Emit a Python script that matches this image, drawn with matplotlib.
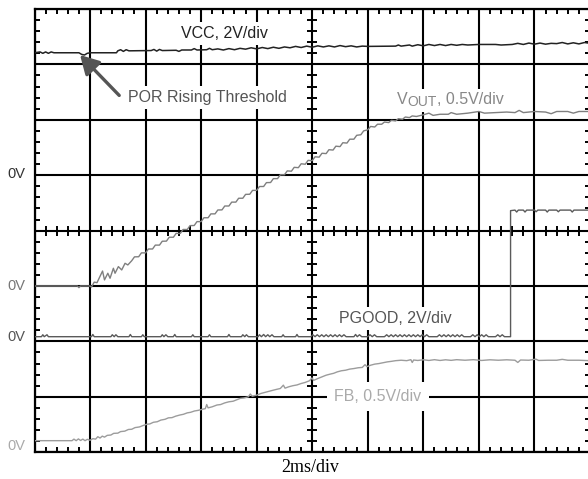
import matplotlib
matplotlib.use("Agg")
import matplotlib.pyplot as plt
import matplotlib.patches as mpatches
from matplotlib.transforms import Bbox, IdentityTransform
import numpy as np

# Scope settings: 2 ms/div, 10 x 8 divisions
MS_PER_DIV = 2.0
N_XDIV = 10
N_YDIV = 8

# channel: (volts per div, 0V position in divisions from the bottom)
CHANNELS = {
    "vcc": (2.0, 5.0),
    "vout": (0.5, 3.0),
    "pgood": (2.0, 2.0),
    "fb": (0.5, 0.0),
}

# traces: (time ms, volts)
vcc_pts = [
    (0.0, 4.42), (0.2, 4.45), (0.3, 4.40), (0.4, 4.45), (0.5, 4.40), (0.6, 4.45),
    (0.7, 4.42), (1.6, 4.42), (1.7, 4.36), (1.8, 4.34), (1.9, 4.40), (2.0, 4.42),
    (2.95, 4.42), (3.0, 4.49), (3.1, 4.53), (3.2, 4.47), (3.3, 4.53), (3.4, 4.49),
    (4.2, 4.50), (4.3, 4.54), (4.4, 4.48), (4.5, 4.54), (4.6, 4.50), (5.1, 4.51),
    (5.2, 4.47), (5.3, 4.52), (5.65, 4.52), (5.75, 4.57), (5.85, 4.52), (6.2, 4.53),
    (6.3, 4.58), (6.4, 4.53), (6.6, 4.56), (6.8, 4.52), (7.0, 4.57), (7.2, 4.53),
    (7.4, 4.58), (7.6, 4.55), (7.8, 4.60), (8.0, 4.56), (8.2, 4.61), (8.4, 4.57),
    (8.6, 4.62), (8.8, 4.58), (9.0, 4.63), (9.2, 4.60), (9.4, 4.65), (9.6, 4.61),
    (9.8, 4.66), (10.0, 4.62), (10.2, 4.67), (10.4, 4.63), (10.6, 4.67), (10.8, 4.63),
    (11.0, 4.68), (11.2, 4.64), (11.4, 4.67), (11.6, 4.63), (11.8, 4.66), (12.0, 4.65),
    (13.0, 4.66), (13.1, 4.70), (13.2, 4.66), (13.5, 4.70), (13.6, 4.66), (13.8, 4.71),
    (14.0, 4.67), (14.2, 4.72), (14.4, 4.68), (14.6, 4.72), (14.8, 4.68), (15.0, 4.72),
    (15.2, 4.69), (15.4, 4.72), (15.6, 4.70), (16.0, 4.72), (16.6, 4.72), (16.8, 4.70),
    (17.2, 4.72), (17.4, 4.76), (17.6, 4.72), (17.8, 4.77), (18.0, 4.73), (18.2, 4.77),
    (18.4, 4.73), (18.6, 4.76), (18.8, 4.75), (19.0, 4.79), (19.2, 4.74), (19.4, 4.78),
    (19.6, 4.74), (19.8, 4.79), (20.0, 4.76),
]

vout_pts = [
    (0.0, 0.0), (1.55, 0.0), (1.6, -0.015), (1.65, 0.0), (2.0, 0.0), (2.05, -0.01),
    (2.15, 0.035), (2.25, 0.03), (2.45, 0.135), (2.52, 0.055), (2.64, 0.115),
    (2.72, 0.07), (2.84, 0.16), (2.9, 0.115), (3.02, 0.175), (3.14, 0.145),
    (3.26, 0.205), (3.36, 0.19), (3.5, 0.228), (3.6, 0.263), (3.75, 0.264),
    (3.85, 0.299), (4.0, 0.299), (4.1, 0.334), (4.25, 0.334), (4.35, 0.369),
    (4.5, 0.369), (4.6, 0.404), (4.75, 0.405), (4.85, 0.44), (5.0, 0.44),
    (5.1, 0.475), (5.25, 0.475), (5.35, 0.51), (5.5, 0.51), (5.6, 0.545),
    (5.75, 0.546), (5.85, 0.581), (6.0, 0.581), (6.1, 0.616), (6.25, 0.616),
    (6.35, 0.651), (6.5, 0.651), (6.6, 0.686), (6.75, 0.687), (6.85, 0.722),
    (7.0, 0.722), (7.1, 0.757), (7.25, 0.757), (7.35, 0.792), (7.5, 0.792),
    (7.6, 0.827), (7.75, 0.828), (7.85, 0.863), (8.0, 0.863), (8.1, 0.898),
    (8.25, 0.898), (8.35, 0.933), (8.5, 0.934), (8.6, 0.969), (8.75, 0.969),
    (8.85, 1.004), (9.0, 1.004), (9.1, 1.039), (9.25, 1.036), (9.35, 1.071),
    (9.5, 1.068), (9.6, 1.103), (9.75, 1.099), (9.85, 1.134), (10.0, 1.131),
    (10.1, 1.166), (10.25, 1.163), (10.35, 1.198), (10.5, 1.195), (10.6, 1.23),
    (10.75, 1.227), (10.85, 1.262), (11.0, 1.258), (11.1, 1.293), (11.25, 1.29),
    (11.35, 1.325), (11.5, 1.325), (11.6, 1.36), (11.75, 1.365), (11.85, 1.40),
    (12.0, 1.41), (12.1, 1.44), (12.25, 1.435), (12.35, 1.46), (12.5, 1.46),
    (12.6, 1.48), (12.75, 1.475), (12.85, 1.495), (13.0, 1.49), (13.1, 1.51),
    (13.25, 1.505), (13.35, 1.525), (13.5, 1.52), (13.6, 1.535), (13.75, 1.53),
    (14.0, 1.545), (14.2, 1.56), (14.35, 1.54), (14.6, 1.55), (14.9, 1.55),
    (15.0, 1.565), (15.2, 1.55), (15.6, 1.56), (16.0, 1.575), (16.2, 1.56),
    (16.6, 1.565), (17.0, 1.57), (17.3, 1.565), (17.45, 1.585), (17.6, 1.565),
    (18.0, 1.575), (18.4, 1.57), (18.6, 1.555), (18.8, 1.575), (19.2, 1.575),
    (19.4, 1.56), (19.6, 1.575), (20.0, 1.575),
]

pgood_pts = [
    (0.0, 0.17), (0.25, 0.17), (0.3, 0.24), (0.35, 0.17), (0.45, 0.24), (0.5, 0.17),
    (2.05, 0.17), (2.1, 0.25), (2.15, 0.17), (2.75, 0.17), (2.8, 0.24), (2.87, 0.17),
    (2.93, 0.24), (3.0, 0.17), (3.4, 0.17), (3.45, 0.25), (3.5, 0.17), (3.85, 0.17),
    (3.9, 0.24), (3.95, 0.17), (4.55, 0.17), (4.6, 0.24), (4.66, 0.17), (4.73, 0.24),
    (4.8, 0.17), (5.0, 0.17), (5.05, 0.25), (5.1, 0.17), (5.65, 0.17), (5.7, 0.24),
    (5.75, 0.17), (6.25, 0.17), (6.3, 0.24), (6.35, 0.17), (6.95, 0.17), (7.0, 0.25),
    (7.05, 0.17), (7.45, 0.17), (7.5, 0.24), (7.57, 0.17), (7.63, 0.24), (7.7, 0.17),
    (8.05, 0.17), (8.1, 0.24), (8.17, 0.17), (8.25, 0.25), (8.32, 0.17), (8.4, 0.24),
    (8.47, 0.17), (8.55, 0.24), (8.62, 0.17), (8.9, 0.17), (8.95, 0.24), (9.0, 0.17),
    (9.4, 0.17), (9.45, 0.25), (9.5, 0.17), (9.95, 0.17), (10.02, 0.24), (10.1, 0.17),
    (10.18, 0.24), (10.26, 0.17), (10.34, 0.24), (10.42, 0.17), (10.5, 0.24),
    (10.58, 0.17), (10.66, 0.24), (10.74, 0.17), (10.82, 0.24), (10.9, 0.17),
    (10.98, 0.24), (11.06, 0.17), (11.14, 0.24), (11.22, 0.17), (11.5, 0.17),
    (11.56, 0.25), (11.62, 0.17), (11.7, 0.24), (11.78, 0.17), (12.0, 0.17),
    (12.08, 0.24), (12.16, 0.17), (12.24, 0.24), (12.32, 0.17), (12.6, 0.17),
    (12.68, 0.24), (12.76, 0.17), (12.84, 0.24), (12.92, 0.17), (13.0, 0.24),
    (13.08, 0.17), (13.16, 0.24), (13.24, 0.17), (13.32, 0.24), (13.4, 0.17),
    (13.48, 0.24), (13.56, 0.17), (13.64, 0.24), (13.72, 0.17), (13.8, 0.24),
    (13.88, 0.17), (13.96, 0.24), (14.04, 0.17), (14.12, 0.24), (14.2, 0.17),
    (14.5, 0.17), (14.58, 0.24), (14.66, 0.17), (14.74, 0.24), (14.82, 0.17),
    (14.9, 0.24), (14.98, 0.17), (15.06, 0.24), (15.14, 0.17), (15.22, 0.24),
    (15.3, 0.17), (15.38, 0.24), (15.46, 0.17), (15.7, 0.17), (15.78, 0.24),
    (15.86, 0.17), (15.94, 0.24), (16.02, 0.17), (16.1, 0.24), (16.18, 0.17),
    (16.26, 0.24), (16.34, 0.17), (16.6, 0.17), (16.68, 0.24), (16.76, 0.17),
    (16.84, 0.24), (16.92, 0.17), (17.14, 0.17), (17.14, 4.72), (17.3, 4.74),
    (17.36, 4.67), (17.42, 4.74), (17.6, 4.74), (17.66, 4.67), (17.72, 4.74),
    (18.0, 4.74), (18.06, 4.68), (18.12, 4.74), (18.4, 4.74), (18.46, 4.67),
    (18.52, 4.74), (18.8, 4.74), (18.86, 4.68), (18.92, 4.74), (19.3, 4.74),
    (19.36, 4.67), (19.42, 4.74), (19.9, 4.74), (20.0, 4.74),
]

fb_pts = [
    (0.0, 0.104), (1.35, 0.104), (1.42, 0.118), (1.5, 0.104), (1.58, 0.12),
    (1.66, 0.106), (1.74, 0.118), (1.82, 0.104), (1.9, 0.116), (2.0, 0.108),
    (2.1, 0.122), (2.2, 0.118), (2.28, 0.14), (2.36, 0.128), (2.44, 0.145),
    (2.52, 0.136), (2.62, 0.152), (2.75, 0.155), (2.85, 0.17), (3.0, 0.172),
    (3.1, 0.186), (3.25, 0.19), (3.38, 0.205), (3.5, 0.207), (3.62, 0.222),
    (3.78, 0.228), (3.9, 0.24), (4.04, 0.252), (4.15, 0.255), (4.28, 0.27),
    (4.42, 0.275), (4.55, 0.29), (4.7, 0.297), (4.82, 0.31), (4.95, 0.312),
    (5.08, 0.325), (5.24, 0.336), (5.36, 0.342), (5.5, 0.355), (5.62, 0.36),
    (5.76, 0.372), (5.9, 0.378), (6.05, 0.388), (6.15, 0.393), (6.2, 0.43),
    (6.25, 0.4), (6.4, 0.41), (6.57, 0.426), (6.7, 0.43), (6.85, 0.445),
    (7.0, 0.455), (7.15, 0.46), (7.3, 0.475), (7.41, 0.486), (7.55, 0.49),
    (7.7, 0.5), (7.77, 0.525), (7.84, 0.505), (8.01, 0.516), (8.15, 0.53),
    (8.3, 0.54), (8.45, 0.55), (8.6, 0.56), (8.73, 0.568), (8.85, 0.575),
    (8.96, 0.605), (9.02, 0.578), (9.15, 0.59), (9.3, 0.6), (9.45, 0.607),
    (9.6, 0.62), (9.75, 0.63), (9.9, 0.645), (9.99, 0.67), (10.05, 0.648),
    (10.2, 0.665), (10.35, 0.68), (10.5, 0.695), (10.65, 0.705), (10.77, 0.712),
    (10.9, 0.725), (11.05, 0.735), (11.2, 0.74), (11.35, 0.75), (11.5, 0.755),
    (11.65, 0.762), (11.8, 0.765), (11.9, 0.79), (11.97, 0.772), (12.1, 0.785),
    (12.25, 0.795), (12.4, 0.8), (12.56, 0.808), (12.7, 0.815), (12.85, 0.82),
    (13.0, 0.826), (13.2, 0.83), (13.4, 0.826), (13.55, 0.835), (13.6, 0.81),
    (13.65, 0.832), (13.8, 0.828), (14.0, 0.834), (14.2, 0.828), (14.4, 0.835),
    (14.6, 0.828), (14.8, 0.834), (15.0, 0.829), (15.2, 0.835), (15.5, 0.83),
    (15.8, 0.835), (16.1, 0.828), (16.4, 0.834), (16.7, 0.83), (17.0, 0.834),
    (17.3, 0.83), (17.4, 0.81), (17.5, 0.832), (17.8, 0.83), (18.05, 0.84),
    (18.15, 0.828), (18.5, 0.83), (18.8, 0.83), (19.0, 0.838), (19.2, 0.83),
    (19.6, 0.83), (20.0, 0.826),
]

TRACE_COLORS = {"vcc": "#222222", "vout": "#7f7f7f", "pgood": "#5a5a5a", "fb": "#9c9c9c"}
TRACE_WIDTHS = {"vcc": 1.1, "vout": 1.0, "pgood": 1.0, "fb": 1.0}

SANS = ["Liberation Sans", "DejaVu Sans"]
LABEL_SIZE = 11.5


def to_div(pts, ch):
    """(time, volts) -> (time, screen divisions)"""
    vdiv, zero = CHANNELS[ch]
    arr = np.array(pts)
    return arr[:, 0], zero + arr[:, 1] / vdiv


W, H = 588, 479
fig = plt.figure(figsize=(W / 100, H / 100), dpi=100)
# screen area in pixels: x 34.5..590, y 9..452
left, right, top, bottom = 34.5, 590.0, 9.0, 452.2
ax = fig.add_axes([left / W, 1 - bottom / H, (right - left) / W, (bottom - top) / H])
xmax = MS_PER_DIV * N_XDIV
ax.set_xlim(0, xmax)
ax.set_ylim(0, N_YDIV)

# graticule
ax.set_xticks(np.arange(0, xmax + 0.01, MS_PER_DIV))
ax.set_yticks(np.arange(0, N_YDIV + 0.01, 1))
ax.set_xticks(np.arange(0, xmax + 0.01, MS_PER_DIV / 5), minor=True)
ax.set_yticks(np.arange(0, N_YDIV + 0.01, 0.2), minor=True)
ax.tick_params(which="major", length=0, labelbottom=False, labelleft=False)
ax.tick_params(which="minor", direction="in", length=3.8, width=1.4, color="black",
               top=True, bottom=True, left=True, right=True)
ax.grid(which="major", color="black", lw=1.5, zorder=1)
for s in ax.spines.values():
    s.set_linewidth(1.6)
ax.set_axisbelow(True)

# tick marks on the centre cross
xm = np.arange(0, xmax + 0.01, MS_PER_DIV / 5)
xm = xm[np.abs(xm / MS_PER_DIV - np.round(xm / MS_PER_DIV)) > 1e-6]
ym = np.arange(0, N_YDIV + 0.01, 0.2)
ym = ym[np.abs(ym - np.round(ym)) > 1e-6]
ax.plot(xm, np.full(len(xm), N_YDIV / 2), ls="none", marker="|", ms=6.5, mew=1.4,
        color="black", zorder=1.5, clip_on=False)
ax.plot(np.full(len(ym), xmax / 2), ym, ls="none", marker="_", ms=6.5, mew=1.4,
        color="black", zorder=1.5, clip_on=False)

# traces
for ch, pts in [("fb", fb_pts), ("pgood", pgood_pts), ("vout", vout_pts), ("vcc", vcc_pts)]:
    t, d = to_div(pts, ch)
    ax.plot(t, d, color=TRACE_COLORS[ch], lw=TRACE_WIDTHS[ch], zorder=4)

box = dict(boxstyle="square,pad=0.25", fc="white", ec="none")

ax.text(6.83, 7.55, "VCC, 2V/div", family=SANS, fontsize=LABEL_SIZE, color="#222222",
        ha="center", va="center", bbox=box, zorder=3)
ax.text(3.37, 6.40, "POR Rising Threshold", family=SANS, fontsize=LABEL_SIZE,
        color="#555555", ha="left", va="center", bbox=box, zorder=3)
ax.annotate("", xy=(1.64, 7.17), xytext=(3.05, 6.44),
            arrowprops=dict(arrowstyle="-|>,head_length=0.8,head_width=0.45",
                            mutation_scale=14, lw=2.4, color="#555555",
                            shrinkA=0, shrinkB=0), zorder=5)

# V_OUT label from pieces so the subscript sits right
t1 = ax.text(13.06, 6.285, "V", family=SANS, fontsize=LABEL_SIZE, color="#888888",
             ha="left", va="baseline", zorder=3)
t2 = ax.annotate("OUT", xy=(1, 0), xycoords=t1, xytext=(0, -1.2),
                 textcoords="offset points", family=SANS, fontsize=10, color="#888888",
                 ha="left", va="bottom", zorder=3)
t3 = ax.annotate(", 0.5V/div", xy=(1, 0), xycoords=t2, xytext=(0, 1.2),
                 textcoords="offset points", family=SANS, fontsize=LABEL_SIZE,
                 color="#888888", ha="left", va="bottom", zorder=3)

ax.text(10.97, 2.42, "PGOOD, 2V/div", family=SANS, fontsize=LABEL_SIZE, color="#555555",
        ha="left", va="center", bbox=box, zorder=3)
ax.text(10.79, 1.0, "FB, 0.5V/div", family=SANS, fontsize=LABEL_SIZE, color="#aaaaaa",
        ha="left", va="center", bbox=dict(boxstyle="square,pad=0.45", fc="white", ec="none"),
        zorder=3)

# 0V markers on the left
for ypx, col in [(174, "#333333"), (286, "#777777"), (337, "#555555"), (446, "#aaaaaa")]:
    fig.text(7 / W, 1 - ypx / H, "0V", family=SANS, fontsize=10.5, color=col,
             ha="left", va="center")

fig.text(310 / W, 1 - 468 / H, "2ms/div", family=["Liberation Serif", "DejaVu Serif"],
         fontsize=13, color="black", ha="center", va="center")

# white patch behind the V_OUT label pieces
fig.canvas.draw()
r = fig.canvas.get_renderer()
bb = Bbox.union([t.get_window_extent(r) for t in (t1, t2, t3)]).expanded(1.0, 1.0)
pad = 3
ax.add_patch(mpatches.Rectangle((bb.x0 - pad, bb.y0 - pad), bb.width + 2 * pad,
                                bb.height + 2 * pad, transform=IdentityTransform(),
                                fc="white", ec="none", zorder=2.9))

fig.savefig("out.png", dpi=100)
